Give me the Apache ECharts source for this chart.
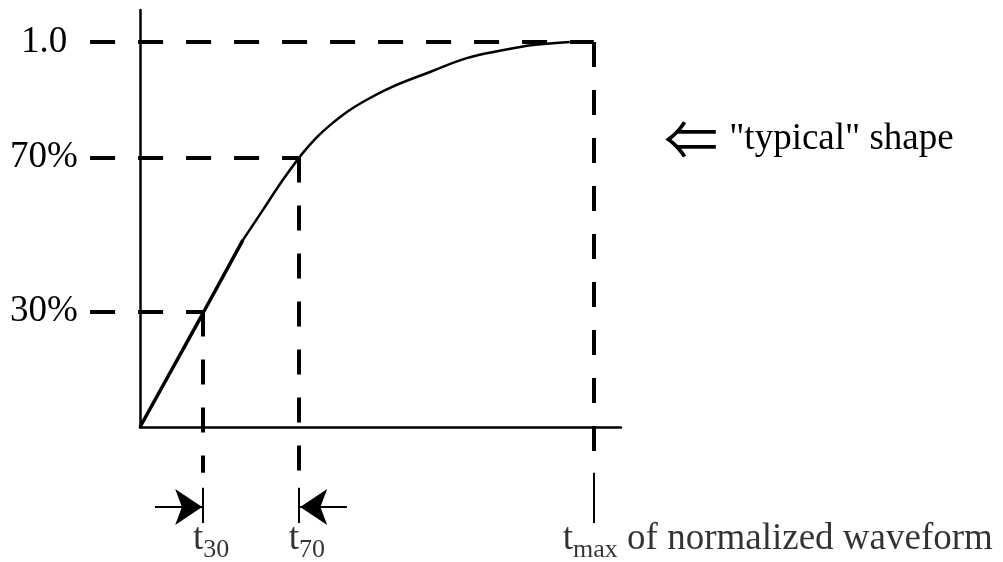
<!DOCTYPE html>
<html>
<head>
<meta charset="utf-8">
<title>normalized waveform rise</title>
<script src="https://cdn.jsdelivr.net/npm/echarts@6/dist/echarts.min.js"></script>
<style>
  html, body { margin: 0; padding: 0; background: #fff; }
  #main { width: 1003px; height: 562px; }
</style>
</head>
<body>
<div id="main"></div>
<script>
// levels of the normalized waveform and the times it crosses them
var levelValues = [0.3, 0.7, 1.0];
var levelNames = ['30%', '70%', '1.0'];
var crossTimes = [0.139, 0.35, 1.0];   // t30, t70, tmax  (time in units of tmax)
var timeSubs = ['30', '70', 'max'];

// rising edge: straight ramp, then the knee
var rampT = [0, 0.139, 0.227];
var rampV = [0, 0.296, 0.486];
var kneeT = [0.227, 0.271, 0.315, 0.359, 0.390, 0.419, 0.456, 0.491, 0.551, 0.639, 0.720, 0.793, 0.866, 0.947];
var kneeV = [0.486, 0.564, 0.642, 0.712, 0.753, 0.784, 0.818, 0.844, 0.881, 0.922, 0.958, 0.977, 0.992, 1.0];

var serif = "'Liberation Serif', 'Times New Roman', serif";
var guideLeft = -0.11;      // dashed level lines start left of the y axis
var guideBottom = -0.119;   // dashed time lines stop under the x axis
var tickTop = -0.158, tickBottom = -0.249;
var arrowY = -0.208, arrowLen = 0.106;
var labelY = -0.325;

function zip(a, b) {
  return a.map(function (v, i) { return [v, b[i]]; });
}

var dashed = [];
levelValues.forEach(function (v, i) {
  dashed.push({ coords: [[guideLeft, v], [crossTimes[i], v]] });
  dashed.push({ coords: [[crossTimes[i], v], [crossTimes[i], guideBottom]] });
});

var ticks = crossTimes.map(function (t, i) {
  return { coords: [[t, i === 2 ? guideBottom : tickTop], [t, tickBottom]] };
});

// arrows close in on t30 and t70 from outside
var arrows = [
  { coords: [[crossTimes[0] - arrowLen, arrowY], [crossTimes[0] - 0.002, arrowY]] },
  { coords: [[crossTimes[1] + arrowLen, arrowY], [crossTimes[1] + 0.003, arrowY]] }
];

var chart = echarts.init(document.getElementById('main'));

var option = {
  animation: false,
  backgroundColor: '#fff',
  grid: { left: 140, width: 481, top: 10, bottom: 135 },
  xAxis: {
    type: 'value', min: 0, max: 1.06,
    axisLine: { show: true, onZero: false, lineStyle: { color: '#000', width: 2.5 } },
    axisTick: { show: false }, axisLabel: { show: false }, splitLine: { show: false }
  },
  yAxis: {
    type: 'value', min: 0, max: 1.083,
    axisLine: { show: true, lineStyle: { color: '#000', width: 2.5 } },
    axisTick: { show: false }, splitLine: { show: false },
    axisLabel: {
      customValues: levelValues,
      formatter: function (v) {
        for (var i = 0; i < levelValues.length; i++) {
          if (Math.abs(levelValues[i] - v) < 1e-6) return levelNames[i];
        }
        return '';
      },
      align: 'center', margin: 96, padding: [6, 0, 0, 0],
      fontSize: 37, fontFamily: serif, color: '#000'
    }
  },
  graphic: [{
    type: 'text', left: 664, top: 112,
    style: {
      text: '{a|⇐} "typical" shape',
      rich: {
        a: { fontSize: 54, fontFamily: 'Noto Sans CJK SC', fill: '#000', padding: [0, 2, 0, 0] }
      },
      fontSize: 37, fontFamily: serif, fill: '#000'
    }
  }],
  series: [
    {
      type: 'lines', coordinateSystem: 'cartesian2d', clip: false,
      data: dashed,
      lineStyle: { color: '#000', width: 4, type: [25, 23], opacity: 1 }
    },
    {
      type: 'lines', coordinateSystem: 'cartesian2d', clip: false,
      data: ticks,
      lineStyle: { color: '#000', width: 2, opacity: 1 }
    },
    {
      type: 'lines', coordinateSystem: 'cartesian2d', clip: false,
      data: arrows, symbol: ['none', 'arrow'], symbolSize: [17, 27],
      lineStyle: { color: '#000', width: 2, opacity: 1 }
    },
    {
      type: 'line', clip: false, showSymbol: false,
      data: zip(rampT, rampV),
      lineStyle: { color: '#000', width: 3.5 }
    },
    {
      type: 'line', clip: false, showSymbol: false, smooth: 0.4,
      data: zip(kneeT, kneeV),
      lineStyle: { color: '#000', width: 2.5 }
    },
    {
      type: 'scatter', clip: false, symbolSize: 1,
      itemStyle: { color: 'rgba(0,0,0,0)' },
      data: crossTimes.map(function (t) { return [t, labelY]; }),
      label: {
        show: true, position: 'inside', align: 'left', verticalAlign: 'bottom',
        color: '#000',
        formatter: function (p) {
          if (p.dataIndex === 2) return '{t|t}{s|max}{t| of normalized waveform}';
          return '{t|t}{s|' + timeSubs[p.dataIndex] + '}';
        },
        rich: {
          t: { fontSize: 37, fontFamily: serif, color: '#000', verticalAlign: 'bottom', padding: [0, 0, 5, 0] },
          s: { fontSize: 26, fontFamily: serif, color: '#000', verticalAlign: 'bottom' }
        }
      },
      labelLayout: function (p) {
        return { dx: p.dataIndex === 2 ? -31 : -10, dy: 11 };
      }
    }
  ]
};

chart.setOption(option);
</script>
</body>
</html>
